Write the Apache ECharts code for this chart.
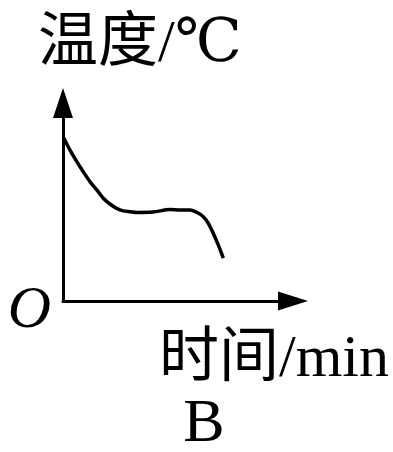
<!DOCTYPE html>
<html>
<head>
<meta charset="utf-8">
<script src="https://cdn.jsdelivr.net/npm/echarts@6/dist/echarts.min.js"></script>
<style>
  html, body { margin: 0; padding: 0; background: #fff; }
  #chart { width: 393px; height: 452px; }
</style>
</head>
<body>
<div id="chart"></div>
<script>
// Cooling curve: temperature falls, holds steady, then falls again
const timeValues = [0.04, 0.30, 0.60, 0.88, 1.17, 1.47, 1.75, 2.04, 2.33, 2.62, 2.91, 3.22, 3.91, 4.65, 5.09, 5.52, 5.81, 6.10, 6.32, 6.53, 6.75, 6.97];
const tempValues = [8.22, 7.63, 7.04, 6.53, 6.03, 5.61, 5.19, 4.90, 4.68, 4.55, 4.51, 4.47, 4.49, 4.62, 4.60, 4.60, 4.48, 4.26, 3.92, 3.42, 2.83, 2.16];

const xName = '时间/min';
const yName = '温度/℃';
const originLabel = 'O';
const panelLabel = 'B';

const serif = "'Liberation Serif', 'DejaVu Serif', 'Noto Sans CJK SC', serif";
const ink = '#000';

const chart = echarts.init(document.getElementById('chart'), null, { renderer: 'canvas' });

chart.setOption({
  backgroundColor: '#fff',
  animation: false,
  title: {
    text: panelLabel,
    left: 199,
    top: 389,
    textAlign: 'center',
    textStyle: { fontFamily: serif, fontSize: 62, fontWeight: 'normal', color: ink }
  },
  grid: { left: 63, right: 100, top: 103, bottom: 151, containLabel: false },
  xAxis: {
    type: 'value',
    min: 0,
    max: 10,
    name: xName,
    nameLocation: 'end',
    nameGap: 96,
    nameTextStyle: {
      fontFamily: serif, fontSize: 60, color: ink,
      align: 'right', verticalAlign: 'top', padding: [29, 0, 0, 0]
    },
    axisLine: {
      show: true,
      symbol: ['none', 'triangle'],
      symbolSize: [19, 30],
      lineStyle: { color: ink, width: 3 }
    },
    axisTick: { show: false },
    axisLabel: { show: false },
    splitLine: { show: false }
  },
  yAxis: {
    type: 'value',
    min: 0,
    max: 10,
    interval: 10,
    name: yName,
    nameLocation: 'end',
    nameGap: 28,
    nameTextStyle: {
      fontFamily: serif, fontSize: 60, color: ink,
      align: 'center', verticalAlign: 'bottom', padding: [0, 0, 0, 154]
    },
    axisLine: {
      show: true,
      symbol: ['none', 'triangle'],
      symbolSize: [20, 30],
      lineStyle: { color: ink, width: 3 }
    },
    axisTick: { show: false },
    axisLabel: {
      show: true,
      margin: 12,
      color: ink,
      formatter: v => (v === 0 ? '{o|' + originLabel + '}' : ''),
      rich: {
        o: {
          fontFamily: serif,
          fontStyle: 'italic',
          fontSize: 60,
          color: ink,
          padding: [20, 0, 0, 0]
        }
      }
    },
    splitLine: { show: false }
  },
  series: [{
    type: 'line',
    data: timeValues.map((t, i) => [t, tempValues[i]]),
    smooth: 0.3,
    symbol: 'none',
    lineStyle: { color: ink, width: 3.5 }
  }]
});
</script>
</body>
</html>
